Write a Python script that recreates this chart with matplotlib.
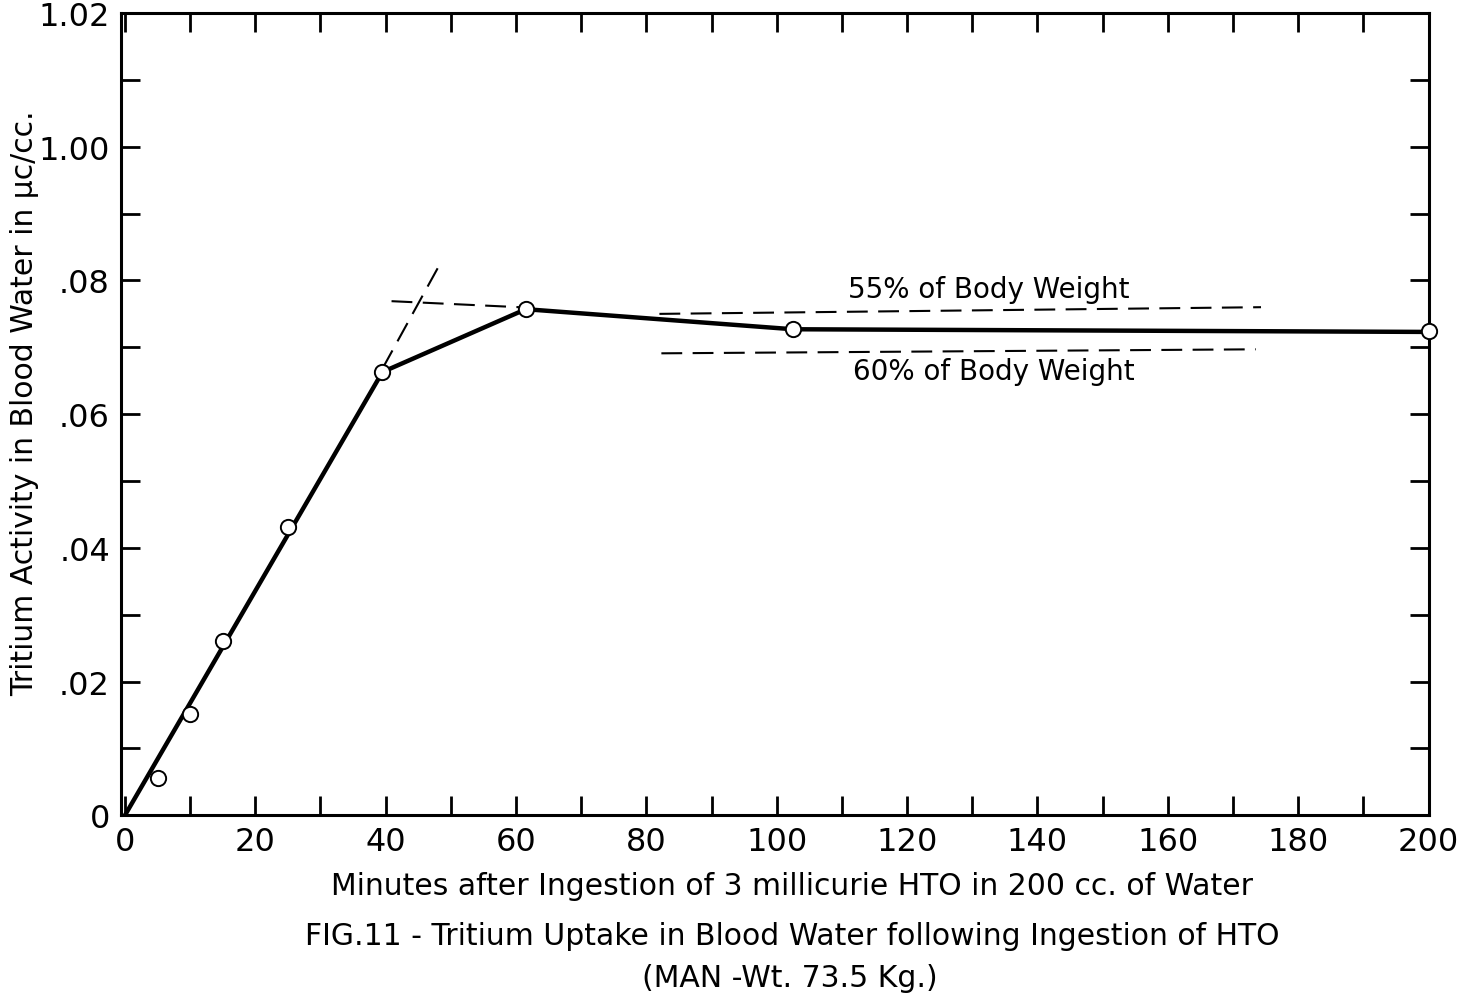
import matplotlib.pyplot as plt
import numpy as np

plt.rcParams['font.family'] = ['DejaVu Sans']

# measured points (minutes, uc/cc)
point_min = [5, 10, 15, 25, 39.5, 61.5, 102.5, 200]
point_act = [0.0055, 0.0152, 0.0260, 0.0431, 0.0663, 0.0757, 0.0727, 0.0724]

# hand-drawn curve through the points
curve_min = [0, 39.5, 61.5, 102.5, 200]
curve_act = [0.0, 0.0663, 0.0757, 0.0727, 0.0723]

# guide lines (dashed)
tangent_x = [39.5, 48.3]
tangent_y = [0.0668, 0.0824]
plateau_x = [40.9, 60.5]
plateau_y = [0.0769, 0.0760]
line55_x = [82, 174.3]
line55_y = [0.0750, 0.0760]
line60_x = [82.3, 173.5]
line60_y = [0.0691, 0.0697]

xticks = np.arange(0, 201, 20)
xminor = np.arange(0, 201, 10)
yticks = [0, 0.02, 0.04, 0.06, 0.08, 0.10, 0.12]
ytick_labels = ['0', '.02', '.04', '.06', '.08', '1.00', '1.02']
yminor = np.arange(0, 0.1201, 0.01)

fig = plt.figure(figsize=(14.62, 10.04), dpi=100)
ax = fig.add_axes([0.0828, 0.187, 0.8943, 0.799])

dash = (0, (10, 5))
ax.plot(tangent_x, tangent_y, color='black', lw=1.5, linestyle=dash)
ax.plot(plateau_x, plateau_y, color='black', lw=1.5, linestyle=dash)
ax.plot(line55_x, line55_y, color='black', lw=1.5, linestyle=dash)
ax.plot(line60_x, line60_y, color='black', lw=1.5, linestyle=dash)

ax.plot(curve_min, curve_act, color='black', lw=3.2, zorder=3)
ax.plot(point_min, point_act, 'o', ms=11, mfc='white', mec='black', mew=1.4,
        zorder=4, clip_on=False)

ax.text(132.6, 0.0787, '55% of Body Weight', fontsize=20, ha='center', va='center')
ax.text(133.3, 0.0664, '60% of Body Weight', fontsize=20, ha='center', va='center')

ax.set_xlim(-0.6, 200)
ax.set_ylim(0, 0.12)
ax.set_xticks(xticks)
ax.set_xticks(xminor, minor=True)
ax.set_yticks(yticks)
ax.set_yticklabels(ytick_labels)
ax.set_yticks(yminor, minor=True)
ax.tick_params(which='both', direction='in', length=14, width=2,
               top=True, right=True, labelsize=23)
ax.tick_params(axis='x', pad=8)
ax.tick_params(axis='y', pad=8)
for s in ax.spines.values():
    s.set_linewidth(2.2)

ax.set_ylabel('Tritium Activity in Blood Water in μc/cc.', fontsize=21.5)
ax.yaxis.set_label_coords(-0.063, 0.515)
fig.text(0.542, 0.117, 'Minutes after Ingestion of 3 millicurie HTO in 200 cc. of Water',
         fontsize=21.5, ha='center', va='center')
fig.text(0.542, 0.067, 'FIG.11 - Tritium Uptake in Blood Water following Ingestion of HTO',
         fontsize=21.5, ha='center', va='center')
fig.text(0.540, 0.025, '(MAN -Wt. 73.5 Kg.)', fontsize=21.5, ha='center', va='center')

fig.savefig('out.png', dpi=100)
